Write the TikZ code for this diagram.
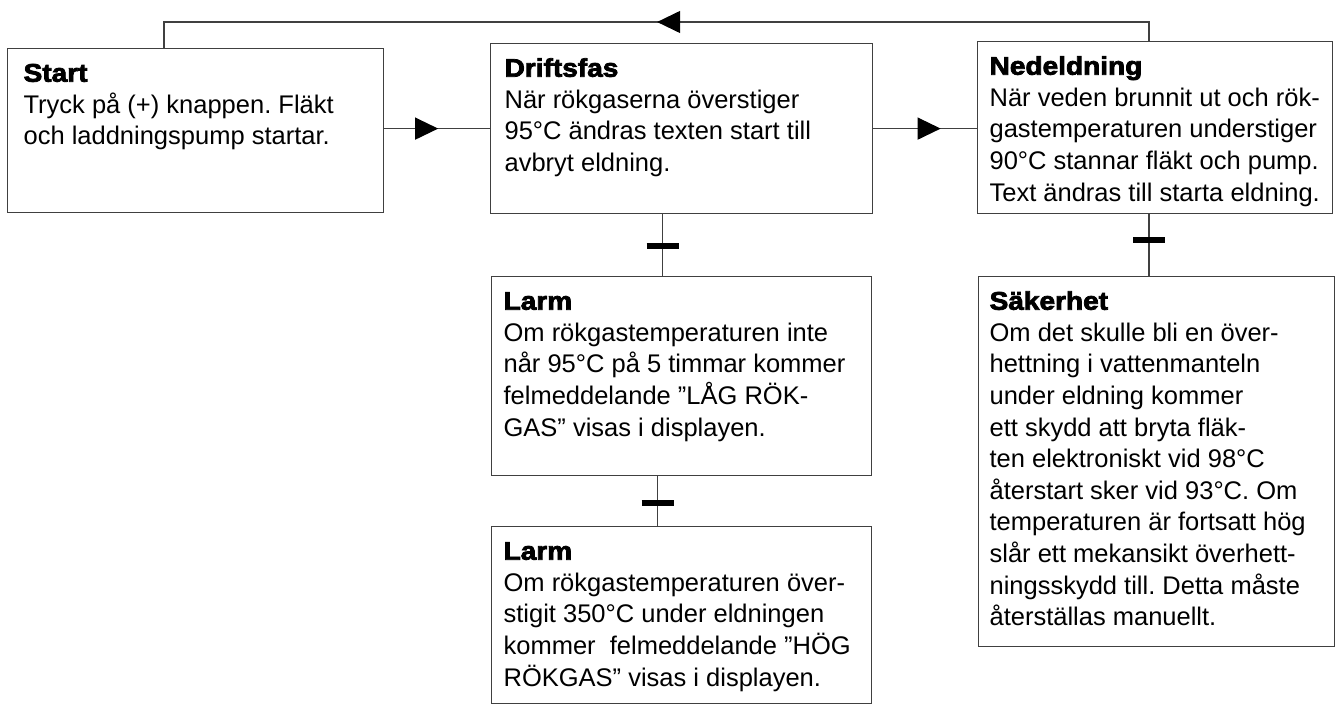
\documentclass[tikz,border=0pt]{standalone}
\usepackage{fontspec}
\setmainfont{Liberation Sans}
\newfontfamily\headfont{Liberation Sans}[BoldFeatures={FakeBold=3,FakeStretch=1.1}]
\usetikzlibrary{arrows.meta,decorations.markings}
\frenchspacing

% box text: height, width, title, lines
\newcommand{\stagetext}[4]{\parbox[t][#1][t]{#2}{\begin{tabular}[t]{@{}l@{}}{\headfont\bfseries #3}\\#4\end{tabular}}}

\begin{document}
\begin{tikzpicture}[x=1pt,y=-1pt]
            \tikzset{stage/.style = {shape=rectangle,draw=black!75,line width=1.2pt,anchor=north west,inner xsep=12pt,inner ysep=11pt,font=\fontsize{25.5}{31.6}\selectfont}}
            \tikzset{edge/.style = {draw=black!75,line width=1.2pt}}
            \tikzset{flow/.style = {edge,postaction={decorate},decoration={markings,mark=at position #1 with {\arrow[black]{Triangle[length=23pt,width=22pt]}}}}}
            \tikzset{hold/.style = {edge,postaction={decorate},decoration={markings,mark=at position #1 with {\draw[black,line width=6pt] (0pt,-16pt) -- (0pt,16pt);}}}}
            \useasboundingbox (0,0) rectangle (1338,704);

            \node[stage,inner xsep=16pt] (start) at (7,48) {\stagetext{142pt}{344pt}{Start}{Tryck på (+) knappen. Fläkt\\och laddningspump startar.}};
            \node[stage,inner xsep=14pt] (drift) at (490,43) {\stagetext{148pt}{354pt}{Driftsfas}{När rökgaserna överstiger\\95°C ändras texten start till\\avbryt eldning.}};
            \node[stage] (ned) at (977,41) {\stagetext{150pt}{331pt}{Nedeldning}{När veden brunnit ut och rök-\\gastemperaturen understiger\\90°C stannar fläkt och pump.\\Text ändras till starta eldning.}};
            \node[stage] (larmA) at (491,276) {\stagetext{177pt}{356pt}{Larm}{Om rökgastemperaturen inte\\når 95°C på 5 timmar kommer\\felmeddelande ”LÅG RÖK-\\GAS” visas i displayen.}};
            \node[stage] (larmB) at (491,526) {\stagetext{155pt}{356pt}{Larm}{Om rökgastemperaturen över-\\stigit 350°C under eldningen\\kommer\ \ felmeddelande ”HÖG\\RÖKGAS” visas i displayen.}};
            \node[stage,inner xsep=11pt] (saker) at (978,276) {\stagetext{348pt}{334pt}{Säkerhet}{Om det skulle bli en över-\\hettning i vattenmanteln\\under eldning kommer\\ett skydd att bryta fläk-\\ten elektroniskt vid 98°C\\återstart sker vid 93°C. Om\\temperaturen är fortsatt hög\\slår ett mekansikt överhett-\\ningsskydd till. Detta måste\\återställas manuellt.}};

            \coordinate (backR) at (1149,22);
            \coordinate (backL) at (164,22);

            \draw[flow=0.51] (start.east |- drift.west) to (drift.west);
            \draw[flow=0.65] (drift.east) to (ned.west |- drift.east);
            \draw[flow=0.496] (ned.north -| backR) -- (backR) -- (backL) -- (backL |- start.north);
            \draw[hold=0.52] ([xshift=-19pt]drift.south) to ([xshift=-19pt]larmA.north);
            \draw[hold=0.53] ([xshift=-24pt]larmA.south) to ([xshift=-24pt]larmB.north);
            \draw[hold=0.41] (ned.south -| backR) to (saker.north -| backR);
        \end{tikzpicture}
\end{document}
